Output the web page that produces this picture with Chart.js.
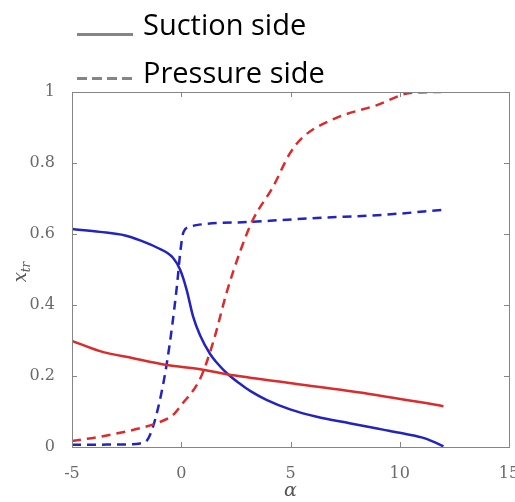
<!DOCTYPE html>
<html>
<head>
<meta charset="utf-8">
<script src="https://cdn.jsdelivr.net/npm/chart.js@4"></script>
<style>
html,body{margin:0;padding:0;background:#fff;}
#wrap{position:relative;width:515px;height:502px;}
</style>
</head>
<body>
<div id="wrap"><canvas id="c" width="515" height="502"></canvas></div>
<script>
// ---- data ----
const xTicks = [-5, 0, 5, 10, 15];
const yTicks = [0, 0.2, 0.4, 0.6, 0.8, 1];
const legendLabels = ['Suction side', 'Pressure side'];
const xTitle = 'α';

// Suction side, blue
const suctionBlueA = [-5, -3.72, -2.57, -1.88, -1.12, -0.38, -0.05, 0.25, 0.54, 0.86, 1.32, 1.62, 2.1, 2.69, 3.15, 3.9, 4.98, 6.2, 7.7, 9.23, 10, 11, 11.5, 12];
const suctionBlueV = [0.614, 0.606, 0.596, 0.582, 0.562, 0.533, 0.499, 0.442, 0.368, 0.315, 0.262, 0.238, 0.207, 0.178, 0.158, 0.133, 0.106, 0.085, 0.067, 0.049, 0.04, 0.027, 0.016, 0.002];
// Suction side, red
const suctionRedA = [-5, -3.72, -2.2, -0.65, 0.87, 2.08, 5.13, 8.48, 12];
const suctionRedV = [0.299, 0.27, 0.25, 0.231, 0.219, 0.205, 0.179, 0.151, 0.115];
// Pressure side, red
const pressureRedA = [-5, -3.72, -1.88, -1.12, -0.38, 0, 0.87, 1.45, 2.1, 2.69, 3.28, 4.2, 4.98, 5.57, 7.1, 8.96, 10.47, 11.9];
const pressureRedV = [0.017, 0.029, 0.053, 0.067, 0.09, 0.118, 0.193, 0.293, 0.44, 0.55, 0.64, 0.733, 0.828, 0.873, 0.927, 0.963, 0.997, 1.0];
// Pressure side, blue
const pressureBlueA = [-5, -3, -1.88, -1.5, -1.12, -0.66, -0.2, -0.05, 0.1, 0.4, 0.7, 3.15, 6.2, 9.23, 12];
const pressureBlueV = [0.006, 0.007, 0.01, 0.025, 0.095, 0.236, 0.452, 0.546, 0.605, 0.62, 0.625, 0.634, 0.645, 0.654, 0.668];

const BLUE = '#2323c2';
const RED = '#dc2b2b';

function pts(a, v) { return a.map((x, i) => ({x: x, y: v[i]})); }
function ds(a, v, color, dashed) {
  return {
    data: pts(a, v), borderColor: color, borderWidth: 2.5, pointRadius: 0,
    showLine: true, fill: false, cubicInterpolationMode: 'monotone',
    borderDash: dashed ? [9, 6] : [], borderCapStyle: 'butt'
  };
}

const framePlugin = {
  id: 'frame',
  afterDraw(chart) {
    const ctx = chart.ctx, a = chart.chartArea;
    const xs = chart.scales.x, ys = chart.scales.y;
    ctx.save();
    ctx.strokeStyle = '#858585';
    ctx.lineWidth = 1;
    ctx.strokeRect(Math.round(a.left) + 0.5, Math.round(a.top) + 0.5, Math.round(a.right - a.left), Math.round(a.bottom - a.top));
    ctx.beginPath();
    const tl = 5;
    xTicks.forEach(t => {
      const px = Math.round(xs.getPixelForValue(t)) + 0.5;
      ctx.moveTo(px, a.bottom); ctx.lineTo(px, a.bottom - tl);
      ctx.moveTo(px, a.top); ctx.lineTo(px, a.top + tl);
    });
    yTicks.forEach(t => {
      const py = Math.round(ys.getPixelForValue(t)) + 0.5;
      ctx.moveTo(a.left, py); ctx.lineTo(a.left + tl, py);
      ctx.moveTo(a.right, py); ctx.lineTo(a.right - tl, py);
    });
    ctx.stroke();

    // axis titles
    ctx.fillStyle = '#555';
    ctx.font = 'italic 19px "DejaVu Serif"';
    ctx.textAlign = 'center'; ctx.textBaseline = 'middle';
    ctx.fillText(xTitle, (a.left + a.right) / 2, 491);
    ctx.save();
    ctx.translate(21, 272);
    ctx.rotate(-Math.PI / 2);
    ctx.textAlign = 'left'; ctx.textBaseline = 'alphabetic';
    ctx.font = 'italic 18px "DejaVu Serif"';
    const wx = ctx.measureText('x').width;
    ctx.font = 'italic 12px "DejaVu Serif"';
    const wtr = ctx.measureText('tr').width;
    const start = -(wx + wtr) / 2;
    ctx.font = 'italic 18px "DejaVu Serif"';
    ctx.fillText('x', start, 5);
    ctx.font = 'italic 12px "DejaVu Serif"';
    ctx.fillText('tr', start + wx, 9);
    ctx.restore();

    // legend
    ctx.strokeStyle = '#858585';
    ctx.lineWidth = 3;
    ctx.beginPath(); ctx.moveTo(77, 34.5); ctx.lineTo(133, 34.5); ctx.stroke();
    ctx.setLineDash([10, 5]);
    ctx.beginPath(); ctx.moveTo(77, 78.5); ctx.lineTo(133, 78.5); ctx.stroke();
    ctx.setLineDash([]);
    ctx.fillStyle = '#000';
    ctx.font = '29px "Open Sans"';
    ctx.textAlign = 'left'; ctx.textBaseline = 'alphabetic';
    ctx.fillText(legendLabels[0], 143, 35);
    ctx.fillText(legendLabels[1], 143, 83);
    ctx.restore();
  }
};

new Chart(document.getElementById('c'), {
  type: 'scatter',
  data: {
    datasets: [
      ds(suctionRedA, suctionRedV, RED, false),
      ds(pressureRedA, pressureRedV, RED, true),
      ds(suctionBlueA, suctionBlueV, BLUE, false),
      ds(pressureBlueA, pressureBlueV, BLUE, true)
    ]
  },
  options: {
    responsive: false, animation: false,
    layout: {padding: {left: 0, right: 6, top: 92, bottom: 0}},
    plugins: {legend: {display: false}, tooltip: {enabled: false}},
    scales: {
      x: {
        type: 'linear', min: -5, max: 15,
        afterBuildTicks(s) { s.ticks = xTicks.map(v => ({value: v})); },
        afterFit(s) { s.height = 55; s.paddingLeft = 0; s.paddingRight = 0; },
        grid: {display: false}, border: {display: false},
        ticks: {padding: 9, maxRotation: 0, color: '#6a6a6a', font: {family: 'DejaVu Serif', size: 16},
                callback: v => String(v)}
      },
      y: {
        type: 'linear', min: 0, max: 1,
        afterBuildTicks(s) { s.ticks = yTicks.map(v => ({value: v})); },
        afterFit(s) { s.width = 72; s.paddingTop = 0; s.paddingBottom = 0; },
        grid: {display: false}, border: {display: false},
        ticks: {padding: 9, color: '#6a6a6a', font: {family: 'DejaVu Serif', size: 16},
                callback: v => String(v)}
      }
    }
  },
  plugins: [framePlugin]
});
</script>
</body>
</html>
